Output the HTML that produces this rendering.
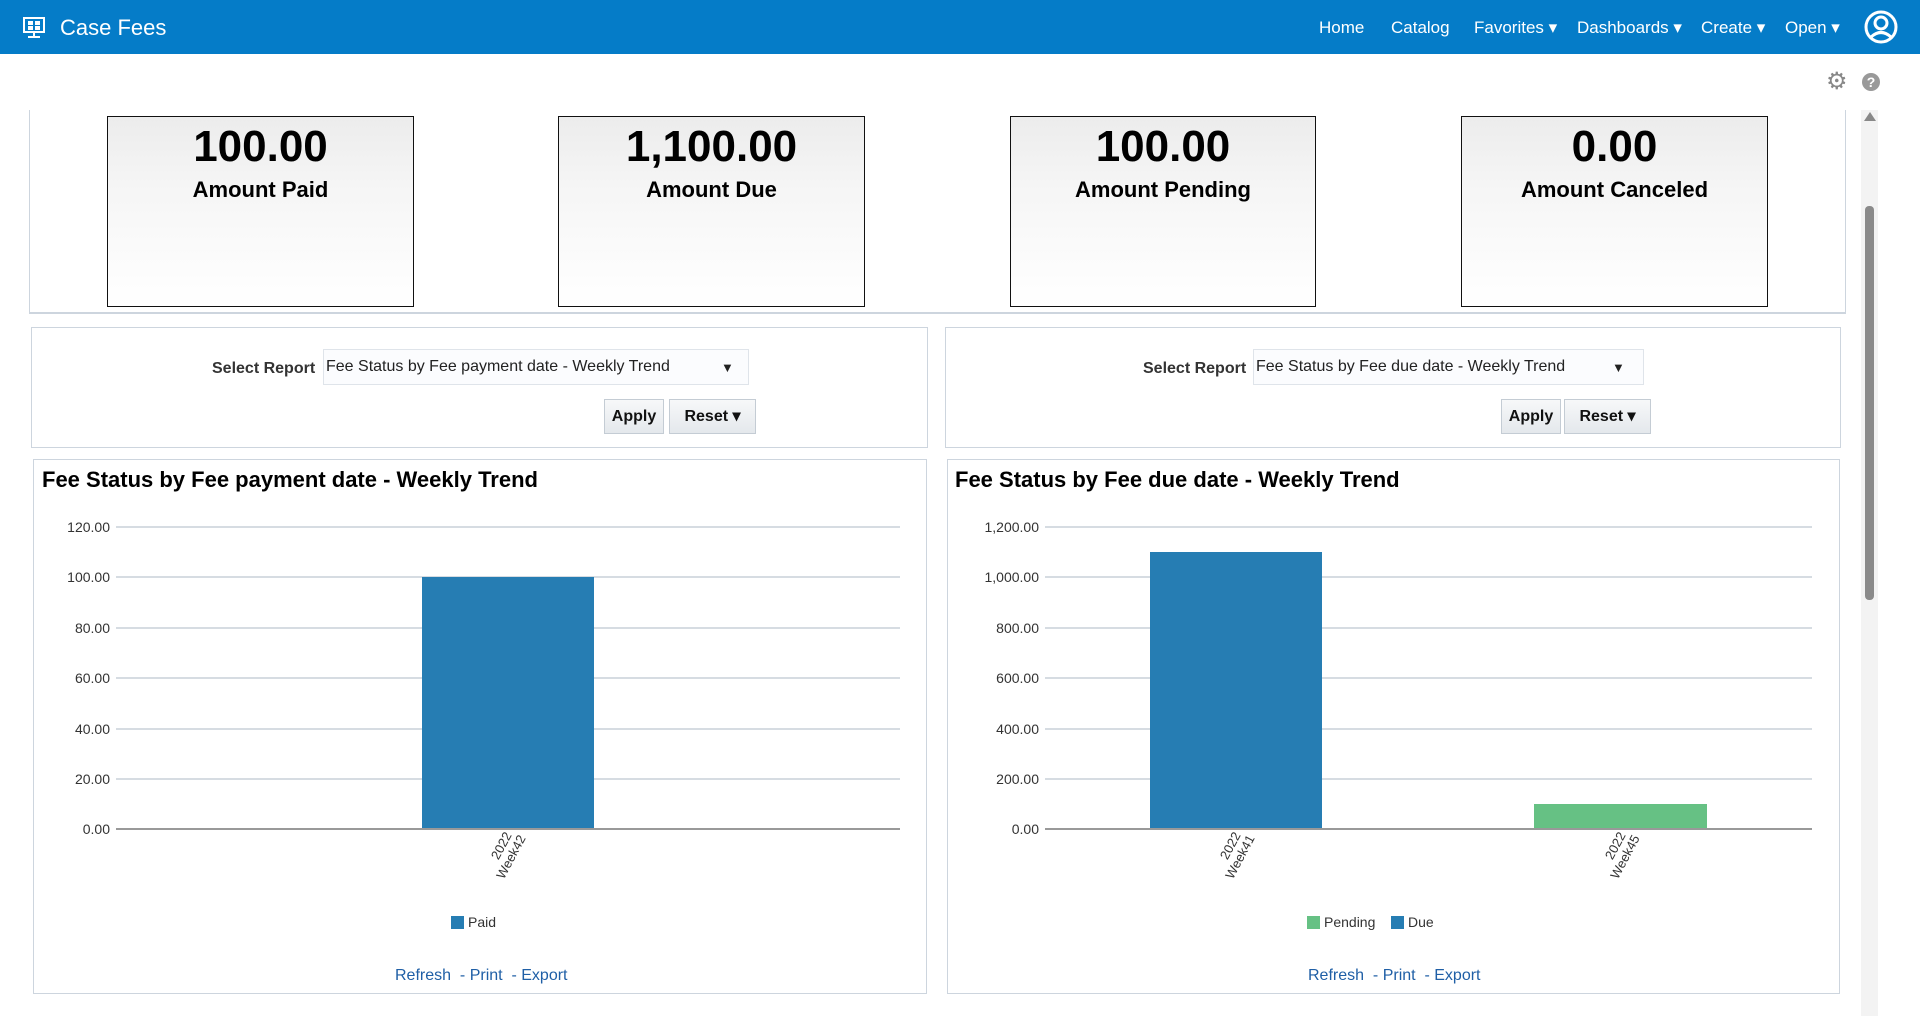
<!DOCTYPE html>
<html><head><meta charset="utf-8"><style>
*{margin:0;padding:0;box-sizing:border-box}
body{width:1920px;height:1016px;overflow:hidden;background:#fff;font-family:"Liberation Sans",Arial,sans-serif;position:relative}
.a{position:absolute}
.hdr{left:0;top:0;width:1920px;height:54px;background:#057cc8}
.nav{top:18px;color:#fff;font-size:17px}
.kpi{border:1px solid #111;background:linear-gradient(#ececec,#f5f5f5 35%,#fff);text-align:center}
.kpi .n{font-size:44px;font-weight:bold;margin-top:5px;line-height:50px}
.kpi .l{font-size:22px;font-weight:bold;margin-top:5px}
.pan{border:1px solid #cdd5de;background:#fff}
.sel{font-size:16px;font-weight:bold;color:#333}
.dd{border:1px solid #dfe4ea;background:#fbfcfe;font-size:16px;color:#222;padding:8px 2px}
.btn{border:1px solid #c4ccd4;background:linear-gradient(#f7f8f9,#e4e8ec);font-size:16px;font-weight:bold;color:#111;text-align:center;line-height:33px}
.ttl{font-size:22px;font-weight:bold;color:#000}
.lnk{font-size:16px;color:#1f5fa6}
</style></head><body>
<div class="a hdr"></div>
<svg class="a" style="left:22px;top:16px" width="24" height="24" viewBox="0 0 24 24"><rect x="2" y="2" width="20" height="14" fill="none" stroke="#fff" stroke-width="2"/><rect x="6" y="5" width="5" height="4" fill="#fff"/><rect x="13" y="5" width="5" height="4" fill="#fff"/><rect x="6" y="10" width="5" height="4" fill="#fff"/><rect x="13" y="10" width="5" height="4" fill="#fff"/><rect x="11" y="16" width="2" height="5" fill="#fff"/><rect x="6" y="20" width="12" height="2" fill="#fff"/></svg>
<div class="a" style="left:60px;top:15px;color:#fff;font-size:22px">Case Fees</div>
<div class="a nav" style="left:1319px">Home</div>
<div class="a nav" style="left:1391px">Catalog</div>
<div class="a nav" style="left:1474px">Favorites ▾</div>
<div class="a nav" style="left:1577px">Dashboards ▾</div>
<div class="a nav" style="left:1701px">Create ▾</div>
<div class="a nav" style="left:1785px">Open ▾</div>
<svg class="a" style="left:1863px;top:10px" width="36" height="34" viewBox="0 0 36 34"><circle cx="18" cy="17" r="15" fill="none" stroke="#fff" stroke-width="3"/><circle cx="18" cy="13" r="6" fill="none" stroke="#fff" stroke-width="3"/><path d="M8 27 Q18 18 28 27" fill="none" stroke="#fff" stroke-width="3"/></svg>
<div class="a" style="left:1826px;top:70px;color:#888;font-size:24px;line-height:24px">⚙</div>
<svg class="a" style="left:1861px;top:72px" width="20" height="20"><circle cx="10" cy="10" r="9" fill="#999"/><text x="10" y="15" text-anchor="middle" fill="#fff" font-size="14" font-weight="bold" font-family="Liberation Sans">?</text></svg>
<div class="a" style="left:1861px;top:110px;width:17px;height:906px;background:#f3f3f3"></div>
<div class="a" style="left:1865px;top:206px;width:9px;height:394px;background:#8a8a8a;border-radius:4px"></div>
<div class="a" style="left:1864px;top:112px;width:0;height:0;border-left:6px solid transparent;border-right:6px solid transparent;border-bottom:9px solid #888"></div>

<div class="a" style="left:29px;top:110px;width:1817px;height:204px;border-left:1px solid #cdd5de;border-right:1px solid #cdd5de;border-bottom:2px solid #cdd5de"></div>
<div class="a kpi" style="left:107px;top:116px;width:307px;height:191px"><div class="n">100.00</div><div class="l">Amount Paid</div></div>
<div class="a kpi" style="left:558px;top:116px;width:307px;height:191px"><div class="n">1,100.00</div><div class="l">Amount Due</div></div>
<div class="a kpi" style="left:1010px;top:116px;width:306px;height:191px"><div class="n">100.00</div><div class="l">Amount Pending</div></div>
<div class="a kpi" style="left:1461px;top:116px;width:307px;height:191px"><div class="n">0.00</div><div class="l">Amount Canceled</div></div>

<div class="a pan" style="left:31px;top:327px;width:897px;height:121px"></div>
<div class="a sel" style="left:212px;top:360px">Select Report</div>
<div class="a dd" style="left:323px;top:349px;width:426px;height:36px">Fee Status by Fee payment date - Weekly Trend<span class="a" style="left:397px;top:10px;font-size:13px">▼</span></div>
<div class="a btn" style="left:604px;top:399px;width:60px;height:35px">Apply</div>
<div class="a btn" style="left:669px;top:399px;width:87px;height:35px">Reset ▾</div>

<div class="a pan" style="left:945px;top:327px;width:896px;height:121px"></div>
<div class="a sel" style="left:1143px;top:360px">Select Report</div>
<div class="a dd" style="left:1253px;top:349px;width:391px;height:36px">Fee Status by Fee due date - Weekly Trend<span class="a" style="left:358px;top:10px;font-size:13px">▼</span></div>
<div class="a btn" style="left:1501px;top:399px;width:60px;height:35px">Apply</div>
<div class="a btn" style="left:1564px;top:399px;width:87px;height:35px">Reset ▾</div>

<div class="a pan" style="left:33px;top:459px;width:894px;height:535px"></div>
<div class="a ttl" style="left:42px;top:467px">Fee Status by Fee payment date - Weekly Trend</div>
<div class="a pan" style="left:947px;top:459px;width:893px;height:535px"></div>
<div class="a ttl" style="left:955px;top:467px">Fee Status by Fee due date - Weekly Trend</div>

<svg class="a" style="left:0;top:0" width="1920" height="1016" font-family="Liberation Sans" font-size="14" fill="#333">
<g stroke="#c8d0d8" stroke-width="1.5">
<line x1="116" x2="900" y1="527" y2="527"/><line x1="116" x2="900" y1="577" y2="577"/><line x1="116" x2="900" y1="628" y2="628"/><line x1="116" x2="900" y1="678" y2="678"/><line x1="116" x2="900" y1="729" y2="729"/><line x1="116" x2="900" y1="779" y2="779"/>
<line x1="1045" x2="1812" y1="527" y2="527"/><line x1="1045" x2="1812" y1="577" y2="577"/><line x1="1045" x2="1812" y1="628" y2="628"/><line x1="1045" x2="1812" y1="678" y2="678"/><line x1="1045" x2="1812" y1="729" y2="729"/><line x1="1045" x2="1812" y1="779" y2="779"/>
</g>
<rect x="422" y="577" width="172" height="252" fill="#267db3"/>
<rect x="1150" y="552" width="172" height="277" fill="#267db3"/>
<rect x="1534" y="804" width="173" height="25" fill="#66c184"/>
<g stroke="#999" stroke-width="2"><line x1="116" x2="900" y1="829" y2="829"/><line x1="1045" x2="1812" y1="829" y2="829"/></g>
<g text-anchor="end">
<text x="110" y="532">120.00</text><text x="110" y="582">100.00</text><text x="110" y="633">80.00</text><text x="110" y="683">60.00</text><text x="110" y="734">40.00</text><text x="110" y="784">20.00</text><text x="110" y="834">0.00</text>
<text x="1039" y="532">1,200.00</text><text x="1039" y="582">1,000.00</text><text x="1039" y="633">800.00</text><text x="1039" y="683">600.00</text><text x="1039" y="734">400.00</text><text x="1039" y="784">200.00</text><text x="1039" y="834">0.00</text>
</g>
<g text-anchor="end" font-size="13">
<text transform="translate(512,835) rotate(-62)">2022</text><text transform="translate(526,838) rotate(-62)">Week42</text>
<text transform="translate(1241,835) rotate(-62)">2022</text><text transform="translate(1255,838) rotate(-62)">Week41</text>
<text transform="translate(1626,835) rotate(-62)">2022</text><text transform="translate(1640,838) rotate(-62)">Week45</text>
</g>
<rect x="451" y="916" width="13" height="13" fill="#267db3"/><text x="468" y="927">Paid</text>
<rect x="1307" y="916" width="13" height="13" fill="#66c184"/><text x="1324" y="927">Pending</text>
<rect x="1391" y="916" width="13" height="13" fill="#267db3"/><text x="1408" y="927">Due</text>
</svg>
<div class="a lnk" style="left:395px;top:967px">Refresh &nbsp;- Print &nbsp;- Export</div>
<div class="a lnk" style="left:1308px;top:967px">Refresh &nbsp;- Print &nbsp;- Export</div>
</body></html>
